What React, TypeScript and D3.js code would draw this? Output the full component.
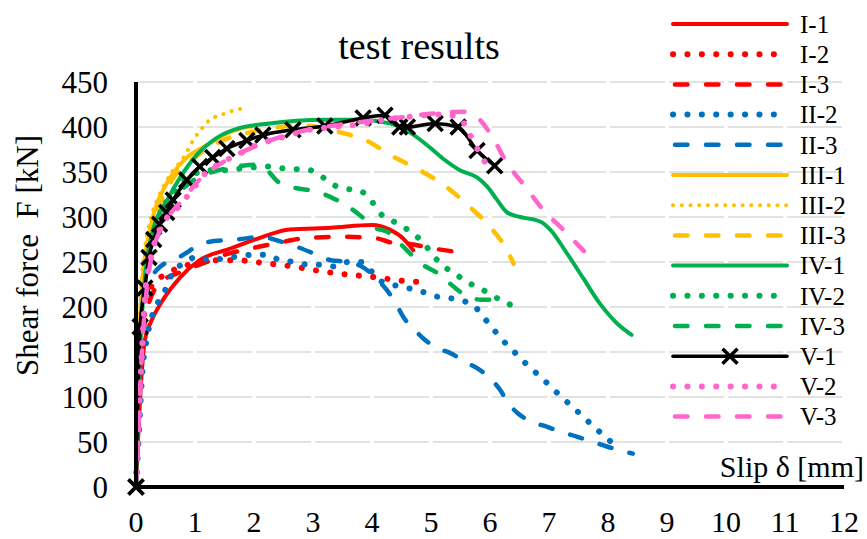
import React from "react";
import * as d3 from "d3";

type Pt = [number, number];

const X_TICKS = d3.range(0, 13);
const Y_TICKS = d3.range(0, 451, 50);

const I1: Pt[] = [[0,0],[0.04,60],[0.09,120],[0.15,163],[0.25,183],[0.41,203],[0.75,233],[1.08,252],[1.6,265],[2.15,278],[2.6,286],[3.3,288],[4.0,291],[4.3,286],[4.53,276],[4.7,263]];
const I2: Pt[] = [[0,0],[0.05,90],[0.1,160],[0.2,215],[0.37,230],[0.6,240],[0.8,245],[1.25,252],[1.7,252],[2.15,249],[2.66,245],[3.12,240],[3.6,236],[4.07,233],[4.53,229],[4.8,228]];
const I3: Pt[] = [[0,0],[0.05,90],[0.1,150],[0.2,200],[0.4,226],[0.8,240],[1.2,250],[1.5,258],[1.8,263],[2.4,271],[2.8,276],[3.5,278],[4.1,276],[4.3,272],[4.64,270],[5.04,265],[5.35,262]];
const II2: Pt[] = [[0,0],[0.05,60],[0.1,120],[0.2,170],[0.32,199],[0.44,211],[0.63,239],[0.83,249],[1.03,256],[1.25,252],[1.5,254],[2.0,258],[2.22,258],[2.44,252],[2.7,250],[2.92,247],[3.15,247],[3.37,245],[3.6,250],[3.83,250],[4.0,239],[4.17,228],[4.39,224],[4.61,221],[4.85,217],[5.07,212],[5.3,210],[5.54,207],[5.75,200],[5.9,188],[6.05,176],[6.2,164],[6.37,153],[6.53,142],[6.71,131],[6.88,121],[7.05,110],[7.23,99],[7.4,89],[7.58,78],[7.76,67],[7.93,57],[8.1,48],[8.15,46]];
const II3: Pt[] = [[0,0],[0.05,100],[0.1,170],[0.2,220],[0.35,241],[0.75,256],[1.2,272],[1.71,275],[2.15,278],[2.39,274],[2.72,267],[3.07,258],[3.3,252],[3.6,250],[3.85,244],[4.13,228],[4.25,219],[4.42,202],[4.53,189],[4.76,172],[4.87,165],[5.12,154],[5.32,149],[5.58,139],[5.78,132],[6.0,121],[6.17,108],[6.31,93],[6.47,82],[6.73,72],[6.96,67],[7.22,61],[7.47,56],[7.75,50],[7.98,45],[8.2,41],[8.42,37]];
const III1: Pt[] = [[0,0],[0.03,100],[0.08,200],[0.15,255],[0.24,286],[0.32,308],[0.46,330],[0.63,349],[0.86,366],[1.2,380],[1.54,393],[1.76,398],[2.0,401]];
const III2: Pt[] = [[0,0],[0.03,110],[0.08,210],[0.15,265],[0.25,298],[0.4,325],[0.5,338],[0.63,352],[0.75,361],[0.86,372],[0.95,383],[1.05,393],[1.14,400],[1.25,408],[1.37,412],[1.51,415],[1.64,418],[1.76,420],[1.88,419]];
const III3: Pt[] = [[0,0],[0.05,130],[0.1,215],[0.2,270],[0.35,305],[0.6,340],[1.0,366],[1.5,386],[2.0,395],[2.44,400],[2.78,402],[3.46,394],[3.9,385],[4.36,367],[4.81,352],[5.27,333],[5.66,311],[6.0,289],[6.29,263],[6.4,248]];
const IV1: Pt[] = [[0,0],[0.04,100],[0.1,190],[0.18,250],[0.29,286],[0.53,319],[0.75,344],[1.03,369],[1.37,388],[1.76,399],[2.27,404],[2.72,407],[3.2,408],[3.8,408],[4.3,404],[4.64,394],[4.93,380],[5.2,365],[5.49,352],[5.78,344],[5.95,334],[6.12,319],[6.29,305],[6.51,300],[6.85,295],[7.02,286],[7.3,260],[7.58,232],[7.86,204],[8.15,182],[8.4,169]];
const IV2: Pt[] = [[0,0],[0.05,100],[0.1,180],[0.2,250],[0.4,300],[0.7,333],[1.0,348],[1.2,352],[1.54,352],[1.8,354],[2.24,356],[2.5,354],[2.95,352],[3.17,344],[3.37,335],[3.6,331],[3.83,328],[4.0,317],[4.14,304],[4.34,296],[4.53,289],[4.73,280],[4.9,269],[5.04,257],[5.2,246],[5.41,237],[5.6,228],[5.83,221],[6.03,213],[6.24,206],[6.47,200],[6.55,203]];
const IV3: Pt[] = [[0,0],[0.05,100],[0.1,180],[0.2,250],[0.4,295],[0.7,325],[1.0,342],[1.4,352],[1.8,357],[2.02,358],[2.22,352],[2.41,339],[2.66,333],[3.07,328],[3.4,319],[3.63,310],[3.85,299],[4.02,289],[4.3,282],[4.47,271],[4.7,256],[4.86,247],[5.1,238],[5.27,229],[5.49,217],[5.69,210],[5.85,208],[6.0,208],[6.17,208],[6.25,206]];
const V1: Pt[] = [[0,0],[0.07,178],[0.15,221],[0.22,255],[0.3,275],[0.4,292],[0.52,305],[0.63,319],[0.86,341],[1.08,356],[1.3,366],[1.54,376],[1.88,385],[2.15,391],[2.66,397],[3.2,401],[3.85,410],[4.22,413],[4.47,400],[4.6,400],[5.07,404],[5.46,400],[5.78,374],[6.08,357]];
const V2: Pt[] = [[0,0],[0.05,80],[0.1,150],[0.15,210],[0.25,255],[0.35,278],[0.46,293],[0.75,313],[0.95,330],[1.2,350],[1.47,361],[1.81,372],[2.05,380],[2.5,389],[2.95,397],[3.34,400],[3.9,404],[4.19,408],[4.59,411],[4.86,413],[5.2,414],[5.49,410],[5.63,395],[5.86,367],[5.97,355]];
const V3: Pt[] = [[0,0],[0.05,80],[0.1,150],[0.2,230],[0.3,265],[0.5,295],[0.8,320],[1.1,343],[1.5,362],[2.0,378],[2.5,390],[3.0,398],[3.5,403],[4.0,407],[4.53,411],[5.04,415],[5.54,417],[5.78,411],[6.0,393],[6.29,360],[6.63,331],[6.9,308],[7.24,286],[7.65,258]];

const SERIES_NAMES = ["I-1","I-2","I-3","II-2","II-3","III-1","III-2","III-3","IV-1","IV-2","IV-3","V-1","V-2","V-3"];
const SERIES_DATA = [I1,I2,I3,II2,II3,III1,III2,III3,IV1,IV2,IV3,V1,V2,V3];
const SERIES_COLORS = ["#FF0000","#FF0000","#FF0000","#0070C0","#0070C0","#FFC000","#FFC000","#FFC000","#00B050","#00B050","#00B050","#000000","#FF66CC","#FF66CC"];
const SERIES_STYLE = ["solid","dot","dash","dot","dash","solid","smalldot","dash","solid","dot","dash","marker","dot","dash"];

const W = 867, H = 539;
const FONT = "'Liberation Serif', 'Times New Roman', serif";

function styleProps(s: string, color: string) {
  if (s === "solid") return { stroke: color, strokeWidth: 4, strokeLinecap: "round" as const };
  if (s === "marker") return { stroke: color, strokeWidth: 3.5, strokeLinecap: "round" as const };
  if (s === "dot") return { stroke: color, strokeWidth: 6, strokeLinecap: "round" as const, strokeDasharray: "0.1 14.3" };
  if (s === "smalldot") return { stroke: color, strokeWidth: 4, strokeLinecap: "round" as const, strokeDasharray: "0.1 8.6" };
  return { stroke: color, strokeWidth: 4.5, strokeLinecap: "round" as const, strokeDasharray: "12.5 18.5" };
}

function Cross({ x, y }: { x: number; y: number }) {
  const s = 7.5;
  return (
    <path d={`M${x - s},${y - s}L${x + s},${y + s}M${x - s},${y + s}L${x + s},${y - s}`} stroke="#000" strokeWidth={3.5} fill="none" />
  );
}

export default function App() {
  const x = d3.scaleLinear().domain([0, 12]).range([136, 844]);
  const y = d3.scaleLinear().domain([0, 450]).range([487, 82]);
  const line = d3.line<Pt>().x(d => x(d[0])).y(d => y(d[1])).curve(d3.curveMonotoneX);

  const legendY0 = 24, legendDY = 30.2;
  const seriesPath = (k: number) => (
    <path key={SERIES_NAMES[k]} d={line(SERIES_DATA[k]) || ""} fill="none" {...styleProps(SERIES_STYLE[k], SERIES_COLORS[k])} />
  );

  return (
    <svg width={W} height={H} style={{ position: "absolute", left: 0, top: 0, background: "#fff" }} fontFamily={FONT}>
      <rect x={0} y={0} width={W} height={H} fill="#fff" />
      {Y_TICKS.filter(v => v > 0).map(v => (
        <g key={"g" + v}>
          {X_TICKS.slice(0, 12).map(i => (
            <line key={i} x1={x(i) + 2} x2={x(i + 1) - 2} y1={y(v)} y2={y(v)} stroke="#D9D9D9" strokeWidth={1.6} />
          ))}
        </g>
      ))}
      {d3.range(0, 11).map(seriesPath)}
      <g>
        <path d={line(V1) || ""} fill="none" {...styleProps("marker", "#000")} />
        {V1.map((d, i) => <Cross key={i} x={x(d[0])} y={y(d[1])} />)}
      </g>
      {d3.range(12, 14).map(seriesPath)}
      <line x1={x(0)} x2={x(12)} y1={y(0)} y2={y(0)} stroke="#000" strokeWidth={4} />
      <line x1={x(0)} x2={x(0)} y1={y(0) + 2} y2={y(450)} stroke="#000" strokeWidth={4} />
      <Cross x={x(0)} y={y(0)} />
      {Y_TICKS.map(v => (
        <text key={"yt" + v} x={108} y={y(v)} dy="0.35em" textAnchor="end" fontSize={31} fill="#000">{v}</text>
      ))}
      {X_TICKS.map(v => (
        <text key={"xt" + v} x={x(v)} y={532} textAnchor="middle" fontSize={30} fill="#000">{v}</text>
      ))}
      <text x={419} y={59} textAnchor="middle" fontSize={38} fill="#000">test results</text>
      <text transform="translate(38,135) rotate(-90)" textAnchor="end" fontSize={31} fill="#000" style={{ whiteSpace: "pre" }}>{"Shear force  F [kN]"}</text>
      <text x={864} y={477} textAnchor="end" fontSize={30} fill="#000">Slip δ [mm]</text>
      {SERIES_NAMES.map((name, k) => {
        const ly = legendY0 + k * legendDY;
        const st = SERIES_STYLE[k];
        const x1 = st === "dash" ? 675 : 673;
        return (
          <g key={"lg" + name}>
            <line x1={x1} x2={787} y1={ly} y2={ly} {...styleProps(st, SERIES_COLORS[k])} />
            {st === "marker" && <Cross x={730} y={ly} />}
            <text x={800} y={ly} dy="0.35em" fontSize={25} fill="#000">{name}</text>
          </g>
        );
      })}
    </svg>
  );
}
